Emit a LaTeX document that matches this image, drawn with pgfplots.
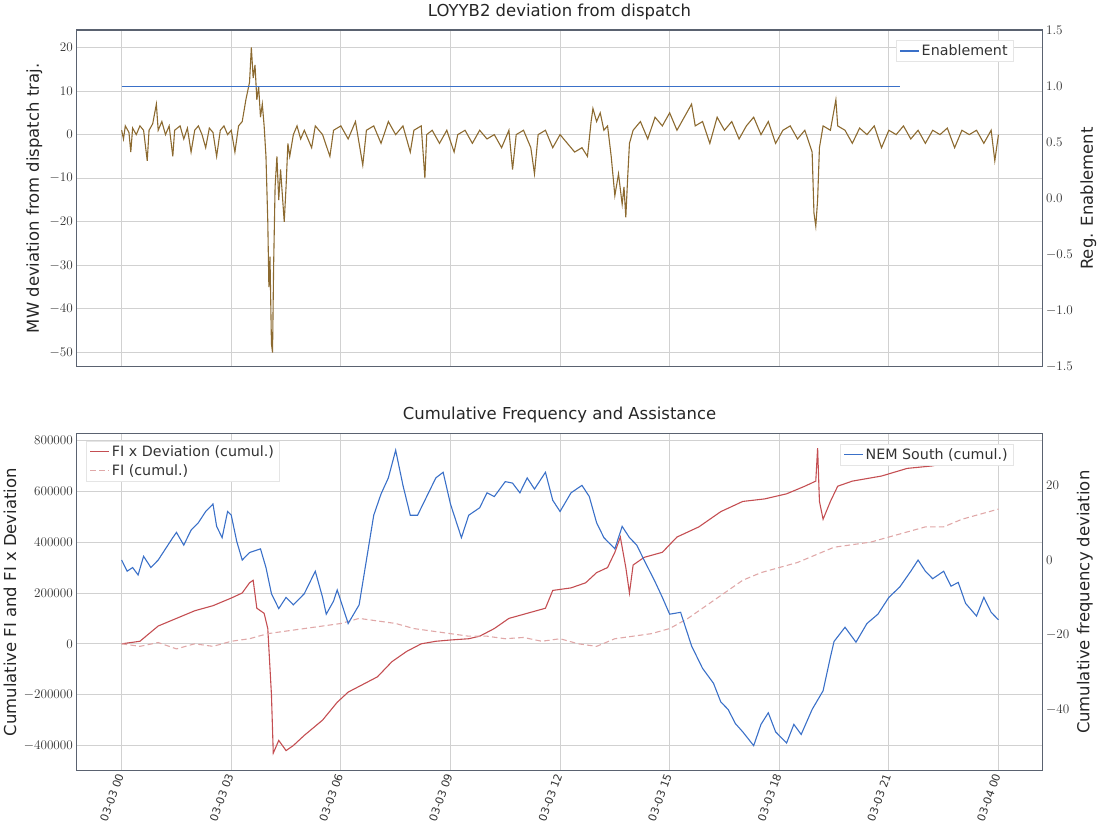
\documentclass[border=0pt]{standalone}
\usepackage{pgfplots}
\pgfplotsset{compat=1.18}
\usepackage{fontspec}
\setmainfont{DejaVu Sans}
\definecolor{brn}{HTML}{8C6A30}
\definecolor{rd}{HTML}{C44E52}
\definecolor{pk}{HTML}{E0A8A8}
\definecolor{bl}{HTML}{3A70C8}
\definecolor{fr}{HTML}{5A6270}
\pgfplotsset{every axis/.style={scale only axis, width=880pt, height=307pt,
  xmin=-1.23, xmax=25.2, axis line style={fr, line width=1pt},
  tick style={draw=none}, ticklabel style={font=\fontsize{13}{15}\selectfont, color=black!80},
  label style={font=\fontsize{15}{17}\selectfont, color=black!85},
  title style={font=\fontsize{15}{17}\selectfont, color=black!85},
  scaled y ticks=false, legend cell align=left,
  legend style={font=\fontsize{13}{15}\selectfont, draw=black!10, fill=white, text=black!80}}}
\begin{document}
\begin{tikzpicture}
% ---------- top
\begin{axis}[at={(0pt,368pt)}, anchor=south west, ymin=-53.3, ymax=24,
  ytick={-50,-40,...,20}, xtick={0,3,...,24}, xticklabels={},
  grid=major, grid style={black!18, line width=0.8pt},
  title={LOYYB2 deviation from dispatch}, ylabel={MW deviation from dispatch traj.},
  yticklabel style={/pgf/number format/fixed}]
\addplot[brn, line width=1pt] coordinates {
(0,1)(0.05,-1)(0.1,2)(0.2,0.5)(0.25,-4)(0.3,1.5)(0.4,0)(0.5,2)(0.6,1)(0.7,-6)(0.75,1)(0.85,2.5)(0.95,7)(1.0,1)(1.1,3)(1.2,0)(1.3,2)(1.4,-5)(1.45,1)(1.6,2)(1.7,-1)(1.8,1.5)(1.9,-4)(2.0,1)(2.1,2)(2.2,0)(2.3,-3)(2.4,1.5)(2.5,0.5)(2.6,-5)(2.7,1)(2.8,2)(2.9,0)(3.0,1)(3.1,-4)(3.2,2)(3.3,3)(3.4,8)(3.5,12)(3.55,20)(3.6,13)(3.65,16)(3.7,8)(3.75,11)(3.8,4)(3.85,7)(3.9,2)(3.95,-5)(4.0,-20)(4.03,-35)(4.06,-28)(4.1,-48)(4.13,-50)(4.16,-30)(4.2,-12)(4.25,-5)(4.3,-15)(4.35,-8)(4.4,-14)(4.45,-20)(4.5,-12)(4.55,-2)(4.6,-5)(4.7,0)(4.8,2)(4.9,-1)(5.0,1)(5.2,-3)(5.3,2)(5.5,0)(5.7,-5)(5.8,1)(6.0,2)(6.2,-1)(6.4,3)(6.6,-7)(6.7,1)(6.9,2)(7.1,-2)(7.3,3)(7.5,0)(7.7,2)(7.9,-4)(8.0,1)(8.2,2)(8.3,-10)(8.35,0)(8.5,1)(8.7,-2)(8.9,1)(9.1,-4)(9.2,0)(9.4,1)(9.6,-2)(9.8,1)(10.0,-1)(10.2,0)(10.4,-3)(10.6,1)(10.7,-8)(10.8,0)(11.0,1)(11.2,-3)(11.3,-9)(11.4,0)(11.6,1)(11.8,-3)(12.0,0)(12.2,-2)(12.4,-4)(12.6,-3)(12.75,-5)(12.85,3)(12.9,6)(13.0,3)(13.1,5)(13.2,1)(13.3,2)(13.4,-5)(13.5,-14)(13.6,-9)(13.7,-16)(13.75,-12)(13.8,-19)(13.85,-10)(13.9,-2)(14.0,1)(14.2,3)(14.4,-1)(14.6,4)(14.8,2)(15.0,5)(15.2,1)(15.4,4)(15.6,7)(15.7,2)(15.9,3)(16.1,-2)(16.3,4)(16.5,1)(16.7,3)(16.9,-1)(17.1,2)(17.3,4)(17.5,0)(17.7,3)(17.9,-2)(18.1,1)(18.3,2)(18.5,-1)(18.7,1)(18.9,-4)(18.95,-18)(19.0,-21)(19.05,-15)(19.1,-3)(19.2,2)(19.4,1)(19.55,8)(19.6,2)(19.8,1)(20.0,-2)(20.2,1.5)(20.4,0)(20.6,2)(20.8,-3)(21.0,1)(21.2,0)(21.4,2)(21.6,-1)(21.8,1)(22.0,-2)(22.2,1)(22.4,0)(22.6,1.5)(22.8,-3)(23.0,1)(23.2,0)(23.4,1)(23.6,-2)(23.8,1)(23.9,-6)(24.0,0)};
\end{axis}
\begin{axis}[at={(0pt,368pt)}, anchor=south west, ymin=-1.5, ymax=1.5,
  axis x line=none, axis y line*=right, ytick={-1.5,-1,...,1.5},
  yticklabel style={/pgf/number format/fixed, /pgf/number format/fixed zerofill, /pgf/number format/precision=1},
  ylabel={Reg. Enablement}, legend pos=north east]
\addplot[bl, line width=1.2pt] coordinates {(0,1)(21.3,1)};
\legend{Enablement}
\end{axis}
% ---------- bottom
\begin{axis}[at={(0pt,0pt)}, anchor=south west, ymin=-499000, ymax=826000,
  ytick={-400000,-200000,0,200000,400000,600000,800000},
  yticklabel style={/pgf/number format/fixed, /pgf/number format/1000 sep={}},
  xtick={0,3,...,24}, xticklabels={03-03 00,03-03 03,03-03 06,03-03 09,03-03 12,03-03 15,03-03 18,03-03 21,03-04 00},
  xticklabel style={rotate=70, anchor=east, font=\fontsize{10}{12}\selectfont},
  grid=major, grid style={black!18, line width=0.8pt},
  title={Cumulative Frequency and Assistance}, ylabel={Cumulative FI and FI x Deviation},
  legend style={at={(0.01,0.98)}, anchor=north west, row sep=2pt}]
\addplot[rd, line width=1pt] coordinates {
(0,0)(0.5,10000)(1,70000)(1.5,100000)(2,130000)(2.5,150000)(3,180000)(3.3,200000)(3.5,240000)(3.6,250000)(3.7,140000)(3.9,120000)(4.0,60000)(4.1,-200000)(4.15,-430000)(4.3,-380000)(4.5,-420000)(4.7,-400000)(5.0,-360000)(5.5,-300000)(5.9,-230000)(6.2,-190000)(6.6,-160000)(7.0,-130000)(7.4,-70000)(7.8,-30000)(8.2,0)(8.6,10000)(9.0,15000)(9.5,20000)(9.8,30000)(10.2,60000)(10.6,100000)(11.1,120000)(11.6,140000)(11.8,210000)(12.3,220000)(12.7,240000)(13.0,280000)(13.3,300000)(13.5,360000)(13.65,420000)(13.8,300000)(13.9,200000)(14.0,310000)(14.3,340000)(14.8,360000)(15.2,420000)(15.8,460000)(16.4,520000)(17.0,560000)(17.6,570000)(18.2,590000)(18.7,620000)(19.0,640000)(19.05,770000)(19.1,560000)(19.2,490000)(19.4,560000)(19.6,620000)(20.0,640000)(20.8,660000)(21.5,690000)(22.2,700000)(23.0,730000)(24,750000)};
\addplot[pk, line width=1pt, dash pattern=on 5pt off 3pt] coordinates {
(0,0)(0.5,-10000)(1,5000)(1.5,-20000)(2,0)(2.5,-10000)(3,10000)(3.5,20000)(4,40000)(4.5,50000)(5,60000)(5.5,70000)(6,80000)(6.5,100000)(7,90000)(7.5,80000)(8,60000)(8.5,50000)(9,40000)(9.5,30000)(10,30000)(10.5,20000)(11,25000)(11.5,10000)(12,20000)(12.5,0)(13,-10000)(13.5,20000)(14,30000)(14.5,40000)(15,60000)(15.5,100000)(16,150000)(16.5,200000)(17,250000)(17.5,280000)(18,300000)(18.5,320000)(19,350000)(19.5,380000)(20,390000)(20.5,400000)(21,420000)(21.5,440000)(22,460000)(22.5,460000)(23,490000)(23.5,510000)(24,530000)};
\legend{FI x Deviation (cumul.),FI (cumul.)}
\end{axis}
\begin{axis}[at={(0pt,0pt)}, anchor=south west, ymin=-56.4, ymax=33.8,
  axis x line=none, axis y line*=right, ytick={-40,-20,0,20},
  ylabel={Cumulative frequency deviation}, legend pos=north east]
\addplot[bl, line width=1pt] coordinates {
(0,0)(0.15,-3)(0.3,-2)(0.45,-4)(0.6,1)(0.8,-2)(1.0,0)(1.2,3)(1.4,6)(1.5,7.4)(1.7,4)(1.9,8)(2.1,10)(2.3,13)(2.5,15)(2.6,9)(2.75,6)(2.9,13)(3.0,12)(3.15,5)(3.3,0)(3.5,2)(3.8,3)(3.95,-2)(4.1,-9)(4.3,-13)(4.5,-10)(4.7,-12)(5.0,-9)(5.3,-3)(5.5,-10)(5.6,-14.5)(5.8,-11)(5.9,-8)(6.1,-14)(6.2,-17)(6.5,-12)(6.7,0)(6.9,12)(7.1,17.7)(7.3,22)(7.5,29.4)(7.7,20)(7.9,12)(8.1,12)(8.4,18)(8.6,22)(8.8,23.5)(9.0,15)(9.3,6)(9.5,12)(9.8,14)(10.0,18)(10.2,17)(10.5,21)(10.7,20.6)(10.9,18)(11.1,22)(11.3,19)(11.6,23.5)(11.8,16)(12.0,13)(12.3,18)(12.6,20)(12.8,17)(13.0,10)(13.2,6)(13.5,3)(13.7,9)(13.9,6)(14.1,4)(14.3,0)(14.6,-5.8)(14.8,-10)(15.0,-14.5)(15.3,-14)(15.6,-23)(15.9,-29)(16.2,-33)(16.4,-38)(16.6,-40)(16.8,-43.8)(17.0,-46)(17.3,-49.7)(17.5,-44)(17.7,-40.9)(17.9,-46)(18.2,-49)(18.4,-44)(18.6,-46.7)(18.9,-40)(19.2,-35)(19.4,-26)(19.5,-21.8)(19.8,-18)(20.1,-22)(20.4,-17)(20.7,-14.5)(21.0,-10)(21.3,-7.2)(21.6,-3)(21.8,0)(22.0,-3)(22.2,-5)(22.5,-3)(22.7,-7)(22.9,-6)(23.1,-11.6)(23.4,-15)(23.6,-10)(23.8,-14)(24.0,-16)};
\legend{NEM South (cumul.)}
\end{axis}
\end{tikzpicture}
\end{document}
